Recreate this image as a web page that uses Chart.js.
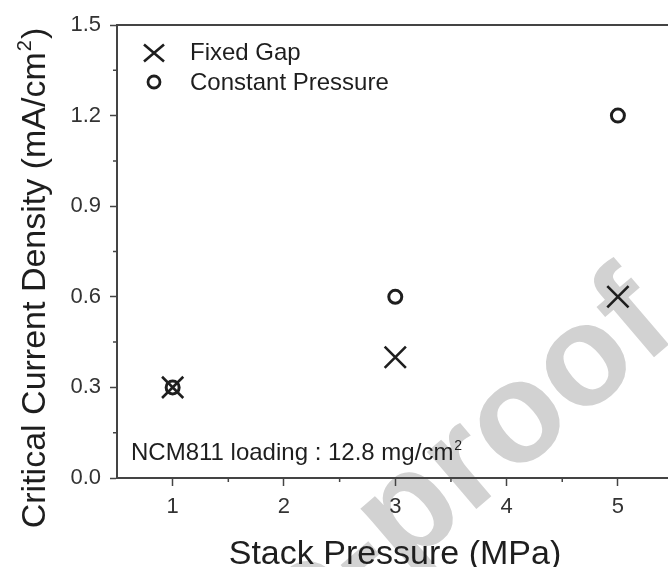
<!DOCTYPE html>
<html>
<head>
<meta charset="utf-8">
<script src="https://cdn.jsdelivr.net/npm/chart.js@4.4.1/dist/chart.umd.min.js"></script>
<style>
  html, body { margin: 0; padding: 0; background: #fff; overflow: hidden; }
  #wrap { width: 668px; height: 567px; overflow: hidden; }
</style>
</head>
<body>
<div id="wrap"><canvas id="chart" width="668" height="567"></canvas></div>
<script>
const pressures = [1, 3, 5];
const fixedGap = [0.3, 0.4, 0.6];
const constantPressure = [0.3, 0.6, 1.2];
const xTicks = [1, 2, 3, 4, 5];
const yTicks = [0.0, 0.3, 0.6, 0.9, 1.2, 1.5];
const xMinor = [1.5, 2.5, 3.5, 4.5];
const yMinor = [0.15, 0.45, 0.75, 1.05, 1.35];

const FONT = '"Liberation Sans", Arial, Helvetica, sans-serif';
const INK = '#1e1e1e';
const AXIS = '#444';

function toPoints(xs, ys) {
  return xs.map((x, i) => ({ x: x, y: ys[i] }));
}

// width of a text with a small superscript part
function supWidth(ctx, before, sup, after, size) {
  ctx.font = size + 'px ' + FONT;
  let w = ctx.measureText(before).width + ctx.measureText(after).width;
  ctx.font = Math.round(size * 0.6) + 'px ' + FONT;
  return w + ctx.measureText(sup).width + 2;
}

function drawSup(ctx, before, sup, after, x, y, size) {
  ctx.textAlign = 'left';
  ctx.textBaseline = 'alphabetic';
  ctx.font = size + 'px ' + FONT;
  ctx.fillText(before, x, y);
  let w = ctx.measureText(before).width;
  ctx.font = Math.round(size * 0.6) + 'px ' + FONT;
  ctx.fillText(sup, x + w + 1, y - size * 0.42);
  w += ctx.measureText(sup).width + 2;
  ctx.font = size + 'px ' + FONT;
  ctx.fillText(after, x + w, y);
}

const watermark = {
  id: 'watermark',
  beforeDraw(chart) {
    const ctx = chart.ctx;
    ctx.save();
    ctx.font = 'bold 143px ' + FONT;
    ctx.fillStyle = '#d2d2d2';
    ctx.translate(680, 335);
    ctx.rotate(-40.5 * Math.PI / 180);
    ctx.textAlign = 'right';
    ctx.fillText('Journal Pre-proof', 0, 0);
    ctx.restore();
  }
};

const decorations = {
  id: 'decorations',
  afterDraw(chart) {
    const ctx = chart.ctx;
    const area = chart.chartArea;
    const xs = chart.scales.x;
    const ys = chart.scales.y;
    ctx.save();

    // top frame line
    ctx.strokeStyle = AXIS;
    ctx.lineWidth = 2;
    ctx.beginPath();
    ctx.moveTo(area.left, area.top);
    ctx.lineTo(area.right, area.top);
    ctx.stroke();

    // minor ticks
    ctx.lineWidth = 1.5;
    ctx.beginPath();
    xMinor.forEach(v => {
      const px = xs.getPixelForValue(v);
      ctx.moveTo(px, area.bottom);
      ctx.lineTo(px, area.bottom + 4);
    });
    yMinor.forEach(v => {
      const py = ys.getPixelForValue(v);
      ctx.moveTo(area.left - 4, py);
      ctx.lineTo(area.left, py);
    });
    ctx.stroke();

    ctx.fillStyle = INK;

    // axis titles
    ctx.font = '34px ' + FONT;
    ctx.textAlign = 'center';
    ctx.textBaseline = 'alphabetic';
    ctx.fillText('Stack Pressure (MPa)', 395, 564);

    ctx.save();
    ctx.translate(45, 278);
    ctx.rotate(-Math.PI / 2);
    const tw = supWidth(ctx, 'Critical Current Density (mA/cm', '2', ')', 34);
    drawSup(ctx, 'Critical Current Density (mA/cm', '2', ')', -tw / 2, 0, 34);
    ctx.restore();

    // note
    drawSup(ctx, 'NCM811 loading : 12.8 mg/cm', '2', '', 131, 460, 24);

    // legend
    ctx.strokeStyle = INK;
    ctx.lineWidth = 2.6;
    ctx.beginPath();
    ctx.moveTo(144, 44.5); ctx.lineTo(164, 61.5);
    ctx.moveTo(164, 44.5); ctx.lineTo(144, 61.5);
    ctx.stroke();
    ctx.lineWidth = 2.8;
    ctx.beginPath();
    ctx.arc(154, 82, 6, 0, Math.PI * 2);
    ctx.stroke();

    ctx.font = '24px ' + FONT;
    ctx.textAlign = 'left';
    ctx.textBaseline = 'alphabetic';
    ctx.fillText('Fixed Gap', 190, 60);
    ctx.fillText('Constant Pressure', 190, 90);

    ctx.restore();
  }
};

const ctx = document.getElementById('chart').getContext('2d');
const chart = new Chart(ctx, {
  type: 'scatter',
  data: {
    datasets: [
      {
        label: 'Fixed Gap',
        data: toPoints(pressures, fixedGap),
        pointStyle: 'crossRot',
        pointRadius: 15,
        borderColor: INK,
        borderWidth: 2.6,
        backgroundColor: INK,
        showLine: false
      },
      {
        label: 'Constant Pressure',
        data: toPoints(pressures, constantPressure),
        pointStyle: 'circle',
        pointRadius: 6.5,
        borderColor: INK,
        borderWidth: 3,
        backgroundColor: 'rgba(0,0,0,0)',
        showLine: false
      }
    ]
  },
  options: {
    responsive: false,
    animation: false,
    devicePixelRatio: 1,
    layout: { autoPadding: false, padding: { left: 0, top: 25, right: 0, bottom: 0 } },
    plugins: {
      legend: { display: false },
      tooltip: { enabled: false }
    },
    scales: {
      x: {
        type: 'linear',
        min: 0.5,
        max: 5.45,
        afterBuildTicks: s => { s.ticks = xTicks.map(v => ({ value: v })); },
        afterFit: s => {
          s.height = 89;
          s.paddingLeft = 0;
          s.paddingRight = 0;
        },
        ticks: {
          font: { family: FONT, size: 22 },
          color: '#333',
          padding: 8,
          maxRotation: 0
        },
        grid: { drawOnChartArea: false, tickLength: 8, tickColor: AXIS, tickWidth: 1.5 },
        border: { display: true, color: AXIS, width: 2 }
      },
      y: {
        type: 'linear',
        min: 0,
        max: 1.5,
        afterBuildTicks: s => { s.ticks = yTicks.map(v => ({ value: v })); },
        afterFit: s => {
          s.width = 117;
          s.paddingTop = 0;
          s.paddingBottom = 0;
        },
        ticks: {
          font: { family: FONT, size: 22 },
          color: '#333',
          padding: 9,
          callback: v => v.toFixed(1)
        },
        grid: { drawOnChartArea: false, tickLength: 7, tickColor: AXIS, tickWidth: 1.5 },
        border: { display: true, color: AXIS, width: 2 }
      }
    }
  },
  plugins: [watermark, decorations]
});
</script>
</body>
</html>
